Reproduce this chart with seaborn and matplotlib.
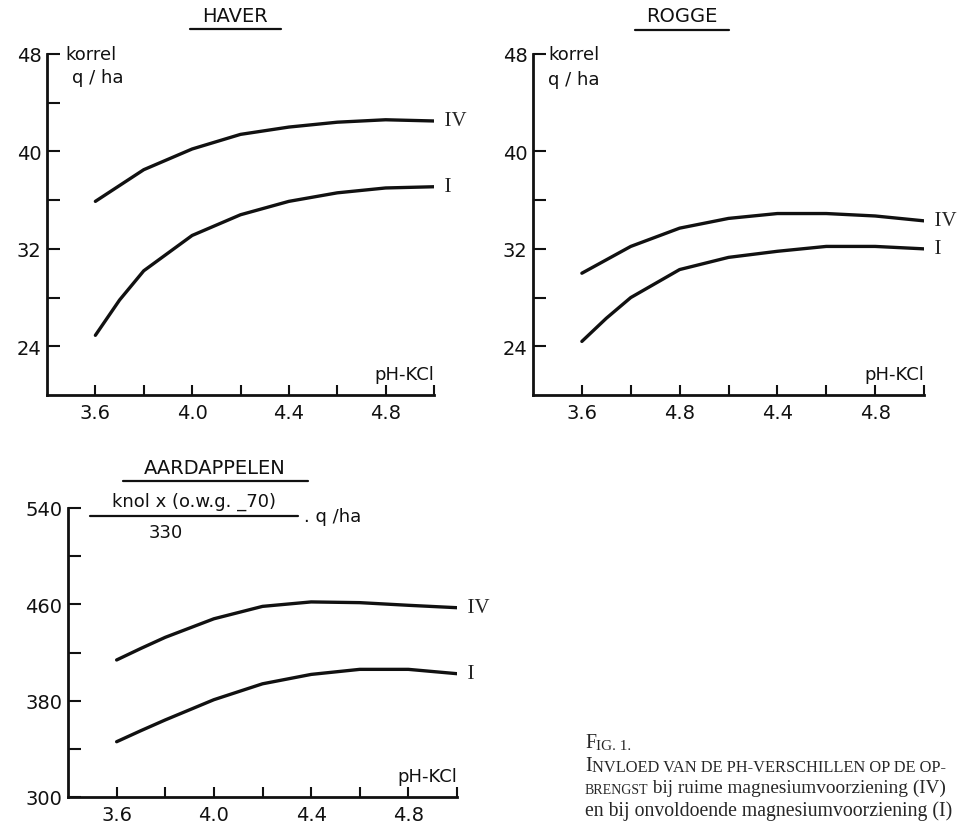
import pandas as pd
import matplotlib.pyplot as plt
import seaborn as sns
from matplotlib.lines import Line2D
from matplotlib.ticker import FixedLocator

# pH-KCl values
ph = [3.6, 3.7, 3.8, 4.0, 4.2, 4.4, 4.6, 4.8, 5.0]

haver_iv = [35.9, 37.2, 38.5, 40.2, 41.4, 42.0, 42.4, 42.6, 42.5]
haver_i = [24.9, 27.8, 30.2, 33.1, 34.8, 35.9, 36.6, 37.0, 37.1]

rogge_iv = [30.0, 31.1, 32.2, 33.7, 34.5, 34.9, 34.9, 34.7, 34.3]
rogge_i = [24.4, 26.3, 28.0, 30.3, 31.3, 31.8, 32.2, 32.2, 32.0]

aard_iv = [413.8, 423.4, 432.6, 448.0, 458.3, 462.0, 461.4, 459.2, 457.2]
aard_i = [345.9, 355.1, 364.0, 380.8, 394.0, 401.8, 406.0, 406.0, 402.4]

xtick_major = [3.6, 4.0, 4.4, 4.8]
xtick_minor = [3.8, 4.2, 4.6, 5.0]
xlabels_haver = ["3.6", "4.0", "4.4", "4.8"]
xlabels_rogge = ["3.6", "4.8", "4.4", "4.8"]  # as printed in the original
ytick_grain = [24, 32, 40, 48]
ytick_grain_minor = [28, 36, 44]
ytick_aard = [300, 380, 460, 540]
ytick_aard_minor = [340, 420, 500]

sns.set_theme(style="ticks")
plt.rcParams['font.family'] = ['DejaVu Sans']

W, H = 959, 828
fig = plt.figure(figsize=(W / 100, H / 100), dpi=100)
fig.patch.set_facecolor("white")
INK = "#111111"


def fx(px):
    return px / W


def fy(py):
    return 1 - py / H


def panel(rect, iv, i, ylim, yt, ytm, xlabels):
    ax = fig.add_axes(rect)
    df = pd.DataFrame({"pH": ph * 2, "opbrengst": iv + i,
                       "trap": ["IV"] * len(ph) + ["I"] * len(ph)})
    sns.lineplot(data=df, x="pH", y="opbrengst", units="trap", estimator=None,
                 color=INK, linewidth=2.4, ax=ax, legend=False)
    ax.set_xlim(3.4, 5.0)
    ax.set_ylim(*ylim)
    ax.xaxis.set_major_locator(FixedLocator(xtick_major))
    ax.xaxis.set_minor_locator(FixedLocator(xtick_minor))
    ax.set_xticklabels(xlabels)
    ax.yaxis.set_major_locator(FixedLocator(yt))
    ax.yaxis.set_minor_locator(FixedLocator(ytm))
    ax.set_xlabel("")
    ax.set_ylabel("")
    for s in ["top", "right"]:
        ax.spines[s].set_visible(False)
    for s in ["left", "bottom"]:
        ax.spines[s].set_linewidth(2.0)
        ax.spines[s].set_color(INK)
    ax.spines["left"].set_bounds(ylim[0], yt[-1])
    ax.tick_params(axis="x", which="both", direction="in", length=7, width=1.5,
                   colors=INK, labelsize=14, pad=6)
    ax.tick_params(axis="y", which="both", direction="in", length=9, width=1.5,
                   colors=INK, labelsize=14, pad=4)
    ax.patch.set_alpha(0)
    ax.text(1.0, iv[-1], "  IV", transform=ax.get_yaxis_transform(),
            fontsize=15, family="Liberation Serif", va="center", ha="left",
            clip_on=False)
    ax.text(1.0, i[-1], "  I", transform=ax.get_yaxis_transform(),
            fontsize=15, family="Liberation Serif", va="center", ha="left",
            clip_on=False)
    return ax


ax1 = panel([fx(47), fy(396), 387 / W, 341 / H], haver_iv, haver_i,
            (20, 48), ytick_grain, ytick_grain_minor, xlabels_haver)
ax2 = panel([fx(533), fy(396), 391 / W, 341 / H], rogge_iv, rogge_i,
            (20, 48), ytick_grain, [28, 36], xlabels_rogge)
ax3 = panel([fx(68), fy(798), 389 / W, 289 / H], aard_iv, aard_i,
            (300, 540), ytick_aard, ytick_aard_minor, xlabels_haver)


def title(text, cx, cy, x0, x1, uy):
    fig.text(fx(cx), fy(cy), text, ha="center", va="center", fontsize=14,
             color=INK)
    fig.add_artist(Line2D([fx(x0), fx(x1)], [fy(uy), fy(uy)],
                          color=INK, lw=1.6))


title("HAVER", 235, 17, 190, 281, 30)
title("ROGGE", 682, 17, 635, 729, 31)
title("AARDAPPELEN", 215, 469, 123, 308, 482)

# axis captions
fig.text(fx(65), fy(55), "korrel", fontsize=13, va="center", color=INK)
fig.text(fx(72), fy(78), "q / ha", fontsize=13, va="center", color=INK)
fig.text(fx(548), fy(55), "korrel", fontsize=13, va="center", color=INK)
fig.text(fx(548), fy(80), "q / ha", fontsize=13, va="center", color=INK)

for x_r, y_c in [(434, 375), (924, 375), (457, 777)]:
    fig.text(fx(x_r), fy(y_c), "pH-KCl", fontsize=13, ha="right", va="center",
             color=INK)

fig.text(fx(194), fy(502), "knol x (o.w.g. _70)", fontsize=13, ha="center",
         va="center", color=INK)
fig.add_artist(Line2D([fx(90), fx(298)], [fy(517), fy(517)], color=INK, lw=1.6))
fig.text(fx(166), fy(533), "330", fontsize=13, ha="center", va="center",
         color=INK)
fig.text(fx(304), fy(517), ". q /ha", fontsize=13, ha="left", va="center",
         color=INK)

# caption, small capitals imitated with a smaller size
serif = "Liberation Serif"
big = 14.2
t = fig.text(fx(585), fy(748), "F", fontsize=big, family=serif, va="baseline")
ax3.annotate("IG. 1.", xy=(1, 0), xycoords=t, fontsize=11, family=serif,
             va="bottom", ha="left", annotation_clip=False)
t = fig.text(fx(585), fy(771), "I", fontsize=big, family=serif, va="baseline")
ax3.annotate("NVLOED VAN DE PH-VERSCHILLEN OP DE OP-", xy=(1, 0), xycoords=t,
             fontsize=11.8, family=serif, va="bottom", ha="left",
             annotation_clip=False)
t = fig.text(fx(585), fy(794), "BRENGST", fontsize=10, family=serif,
             va="baseline")
ax3.annotate(" bij ruime magnesiumvoorziening (IV)", xy=(1, 0), xycoords=t,
             fontsize=big - 0.3, family=serif, va="bottom", ha="left",
             annotation_clip=False)
fig.text(fx(585), fy(816), "en bij onvoldoende magnesiumvoorziening (I)",
         fontsize=big, family=serif, va="baseline")

fig.savefig("out.png", dpi=100, facecolor="white")
